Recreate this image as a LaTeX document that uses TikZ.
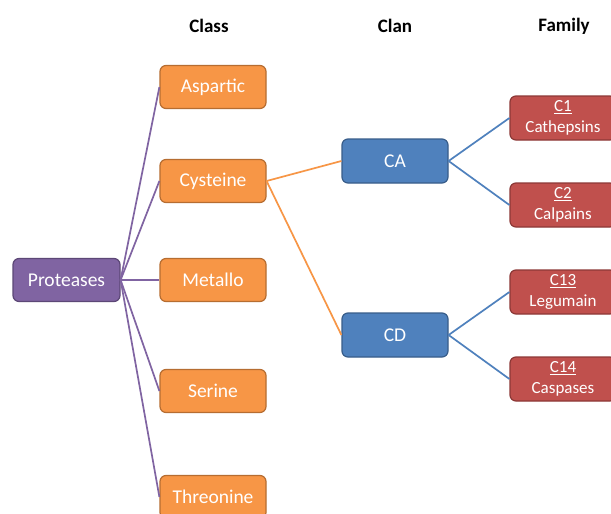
\documentclass[tikz,border=0pt]{standalone}
\usepackage{fontspec}
\setmainfont{Carlito}
\begin{document}
\begin{tikzpicture}[x=1pt,y=-1pt,
  box/.style={draw, line width=1.2pt, rounded corners=6pt, minimum width=106pt, minimum height=43pt, text=white, font=\fontsize{19.5}{22}\selectfont, inner sep=0pt, align=center},
  purplebox/.style={box, fill=ppl, draw=pplD},
  orangebox/.style={box, fill=org, draw=orgD},
  bluebox/.style={box, fill=blu, draw=bluD, minimum height=44pt},
  redbox/.style={box, fill=rd, draw=rdD, minimum height=44pt, font=\fontsize{17}{21}\selectfont},
  head/.style={font=\bfseries\fontsize{19}{21}\selectfont},
  pline/.style={draw=ppl, line width=1.7pt},
  oline/.style={draw=org, line width=1.7pt},
  bline/.style={draw=blu, line width=1.7pt}
]
\definecolor{ppl}{HTML}{8064A2}
\definecolor{pplD}{HTML}{5C4776}
\definecolor{org}{HTML}{F79646}
\definecolor{orgD}{HTML}{B66D31}
\definecolor{blu}{HTML}{4F81BD}
\definecolor{bluD}{HTML}{385D8A}
\definecolor{rd}{HTML}{C0504D}
\definecolor{rdD}{HTML}{8C3836}
\useasboundingbox (0,0) rectangle (611,514);
\fill[white] (0,0) rectangle (611,514);
\begin{scope}
\clip (0,0) rectangle (611,514);
\node[head] (hclass) at (209,26) {Class};
\node[head] (hclan) at (395,26) {Clan};
\node[head] (hfam) at (564,26) {Family};

\node[purplebox, minimum width=107pt] (prot) at (66.5,280) {Proteases};
\node[orangebox] (asp) at (213,87) {Aspartic};
\node[orangebox] (cys) at (213,181) {Cysteine};
\node[orangebox] (met) at (213,280) {Metallo};
\node[orangebox] (ser) at (213,391) {Serine};
\node[orangebox] (thr) at (213,497) {Threonine};

\node[bluebox] (ca) at (395,161) {CA};
\node[bluebox] (cd) at (395,335) {CD};

\node[redbox] (c1) at (563,118) {\underline{C1}\\Cathepsins};
\node[redbox] (c2) at (563,205) {\underline{C2}\\Calpains};
\node[redbox] (c13) at (563,292) {\underline{C13}\\Legumain};
\node[redbox] (c14) at (563,379) {\underline{C14}\\Caspases};

\path[pline] (prot.east) -- (asp.west);
\path[pline] (prot.east) -- (cys.west);
\path[pline] (prot.east) -- (met.west);
\path[pline] (prot.east) -- (ser.west);
\path[pline] (prot.east) -- (thr.west);
\path[oline] (cys.east) -- (ca.west);
\path[oline] (cys.east) -- (cd.west);
\path[bline] (ca.east) -- (c1.west);
\path[bline] (ca.east) -- (c2.west);
\path[bline] (cd.east) -- (c13.west);
\path[bline] (cd.east) -- (c14.west);
\end{scope}
\end{tikzpicture}
\end{document}
